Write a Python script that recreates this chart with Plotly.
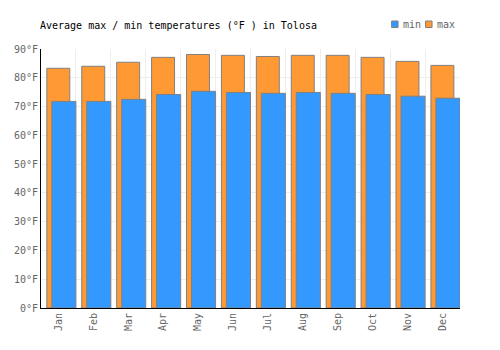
import plotly.graph_objects as go

months = ["Jan", "Feb", "Mar", "Apr", "May", "Jun", "Jul", "Aug", "Sep", "Oct", "Nov", "Dec"]
max_temp = [83.3, 84.0, 85.4, 87.1, 88.1, 87.8, 87.4, 87.8, 87.8, 87.1, 85.7, 84.3]
min_temp = [71.8, 71.8, 72.5, 74.2, 75.3, 74.9, 74.6, 74.9, 74.6, 74.2, 73.6, 72.9]

ORANGE = "#ff9933"
BLUE = "#3399ff"
OUTLINE = "#808080"
FONT = "DejaVu Sans Mono"

W, H = 500, 350
ML, MR, MT, MB = 40.5, 40, 49, 42
PW, PH = W - ML - MR, H - MT - MB

def px(x):
    return (x - ML) / PW

def py(y):
    return (H - MB - y) / PH

fig = go.Figure()
fig.add_trace(go.Bar(x=months, y=max_temp, name="max", offset=-0.333, width=0.658,
                     marker=dict(color=ORANGE, line=dict(color=OUTLINE, width=1))))
fig.add_trace(go.Bar(x=months, y=min_temp, name="min", offset=-0.19, width=0.69,
                     marker=dict(color=BLUE, line=dict(color=OUTLINE, width=1))))

shapes = []
annotations = []
for (x0, label, col) in [(391.5, "min", BLUE), (425.5, "max", ORANGE)]:
    shapes.append(dict(type="rect", xref="paper", yref="paper",
                       x0=px(x0), x1=px(x0 + 6.5), y0=py(27.5), y1=py(21),
                       fillcolor=col, line=dict(color=OUTLINE, width=1)))
    annotations.append(dict(xref="paper", yref="paper", x=px(x0 + 9), y=py(25),
                            xanchor="left", yanchor="middle", text=label, showarrow=False,
                            font=dict(family=FONT, size=10, color="#666666")))

fig.update_layout(
    width=W, height=H,
    margin=dict(l=ML, r=MR, t=MT, b=MB),
    barmode="overlay",
    showlegend=False,
    plot_bgcolor="white", paper_bgcolor="white",
    title=dict(text="Average max / min temperatures (°F ) in Tolosa", x=40 / W, xanchor="left",
               xref="container", y=1 - 25 / H, yanchor="middle", yref="container",
               font=dict(family=FONT, size=10, color="black")),
    font=dict(family=FONT, size=10, color="#666666"),
    shapes=shapes,
    annotations=annotations,
    xaxis=dict(type="category", tickson="boundaries", showgrid=True, gridcolor="#eeeeee",
               gridwidth=1, showline=True, linecolor="black", linewidth=1, ticks="",
               tickangle=-90, range=[-0.5, 11.5], fixedrange=True,
               tickfont=dict(family=FONT, size=10, color="#666666")),
    yaxis=dict(range=[0, 90], dtick=10, ticksuffix="°F", showgrid=True, gridcolor="#eeeeee",
               gridwidth=1, showline=True, linecolor="black", linewidth=1, zeroline=False,
               ticks="", tickfont=dict(family=FONT, size=10, color="#666666")),
)

fig.write_html("out.html")
